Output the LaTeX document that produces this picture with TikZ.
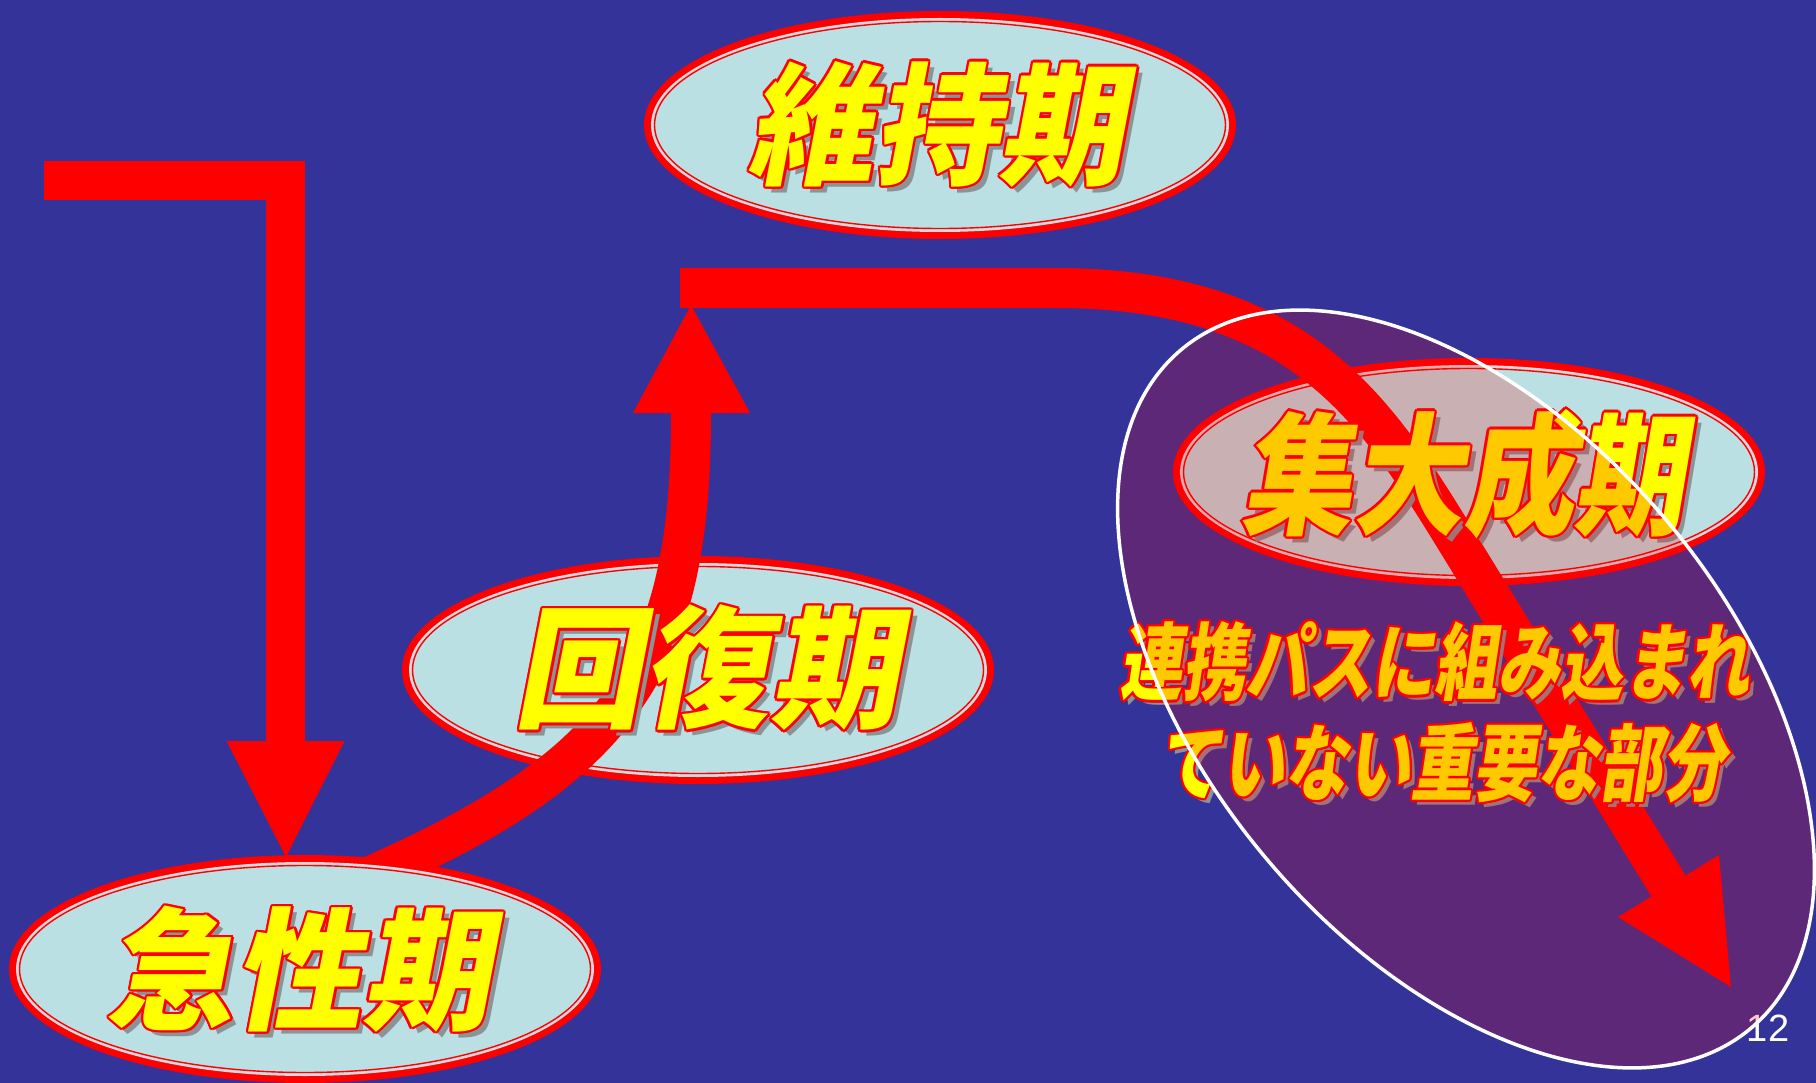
\documentclass[tikz,border=0pt]{standalone}
\usepackage{fontspec}
\usetikzlibrary{shapes.geometric,calc}
\newfontfamily\jpfont{Noto Sans CJK JP}[FakeSlant=0.2]
\newfontfamily\arialfont{Liberation Sans}
\definecolor{bgblue}{RGB}{51,51,153}
\definecolor{phasefill}{RGB}{186,224,228}
\definecolor{ringlight}{RGB}{215,215,222}
\definecolor{shadowgray}{RGB}{138,147,150}
\definecolor{popyellow}{RGB}{255,255,0}
\tikzset{
  phase/.style={ellipse, minimum width=584pt, minimum height=220pt, inner sep=0pt,
                fill=phasefill, draw=red, line width=8pt},
  fatline/.style={draw=red, line width=40pt},
  headfill/.style={fill=red},
  popshadow/.style={text=shadowgray, inner sep=0pt},
  popline/.style={text=red, inner sep=0pt},
  popmain/.style={text=popyellow, inner sep=0pt},
}
\newcommand\phaserings[1]{%
  \draw[ringlight, line width=2pt] (#1.center) ellipse [x radius=288pt, y radius=106pt];
  \draw[red, line width=1.4pt] (#1.center) ellipse [x radius=285.5pt, y radius=103.5pt];
}
% #1 name, #2 x, #3 y, #4 font size, #5 xscale, #6 shadow offset, #7 text
\newcommand\poptext[7]{%
  \node[popshadow, xscale=#5, font=\jpfont\bfseries\fontsize{#4}{#4}\selectfont]
       (#1-sh) at (#2+#6, #3+#6) {#7};
  \foreach \ang in {0,30,...,330}{
    \node[popline, xscale=#5, font=\jpfont\bfseries\fontsize{#4}{#4}\selectfont]
         (#1-o\ang) at ({#2+2.3*cos(\ang)}, {#3+2.3*sin(\ang)}) {#7};
  }
  \node[popmain, xscale=#5, font=\jpfont\bfseries\fontsize{#4}{#4}\selectfont]
       (#1) at (#2, #3) {#7};
}
\begin{document}
\begin{tikzpicture}[x=1pt, y=-1pt]
  \fill[bgblue] (0,0) rectangle (1816,1083);
  \useasboundingbox (0,0) rectangle (1816,1083);

  % ---- ellipse nodes (background layers) ----
  \node[phase] (iji) at (940,125) {};
  \phaserings{iji}
  \node[phase] (kaifuku) at (698,670) {};
  \phaserings{kaifuku}
  \node[phase] (shutaisei) at (1469,472) {};
  \phaserings{shutaisei}

  % ---- L-shaped arrow top-left ----
  \coordinate (lstart) at (44,181);
  \coordinate (lcorner) at (285.5,181);
  \coordinate (lbase) at (285.5,741);
  \coordinate (ltip) at (286,857);
  \draw[fatline, line width=39pt, miter limit=10] (lstart) -- (lcorner) -- (lbase);
  \fill[headfill] ($(lbase)+(-59,0)$) -- ($(lbase)+(59,0)$) -- (ltip) -- cycle;

  % ---- curved arrow up from acute phase ----
  \coordinate (ustart0) at (360,881);
  \coordinate (ustart) at (395,865);
  \coordinate (ubase) at (691,413);
  \coordinate (utip) at (691,305);
  \draw[fatline] (ustart0) -- (ustart) .. controls (632,756) and (691,650) .. (ubase);
  \fill[headfill] ($(ubase)+(-58,0)$) -- ($(ubase)+(59,0)$) -- (utip) -- cycle;

  % ---- top bar and arrow down-right ----
  \coordinate (bstart) at (680,288);
  \coordinate (bbend) at (1055,288);
  \coordinate (bcurve) at (1450,530);
  \coordinate (rbase) at (1668.5,886);
  \coordinate (rtip) at (1731,987);
  \draw[fatline] (bstart) -- (bbend) .. controls (1290,288) and (1370,400) .. (bcurve) -- (rbase);
  \fill[headfill] (1618,917) -- (1719,855) -- (rtip) -- cycle;

  % ---- texts of phases ----
  \poptext{iji-t}{936}{124}{132}{0.95}{6}{維持期}
  \poptext{kaifuku-t}{706}{668}{132}{0.97}{6}{回復期}
  \poptext{shutaisei-t}{1463}{474}{132}{0.84}{6}{集大成期}

  % ---- acute phase on top of curved arrow ----
  \node[phase] (kyusei) at (305,969) {};
  \phaserings{kyusei}
  \poptext{kyusei-t}{298}{969}{132}{0.97}{6}{急性期}

  % ---- note ----
  \poptext{note1}{1434}{662}{84}{0.75}{5}{連携パスに組み込まれ}
  \poptext{note2}{1442}{763}{84}{0.75}{5}{ていない重要な部分}

  % ---- page number ----
  \node[font=\arialfont\fontsize{38}{38}\selectfont, text=white, inner sep=0pt]
       (pagenum) at (1768,1028) {12};

  % ---- highlighted zone ----
  \node[ellipse, minimum width=886pt, minimum height=524pt, inner sep=0pt, rotate=-50,
        fill=red, fill opacity=0.21, draw=white, line width=3.5pt] (zone) at (1466,689) {};
\end{tikzpicture}
\end{document}
